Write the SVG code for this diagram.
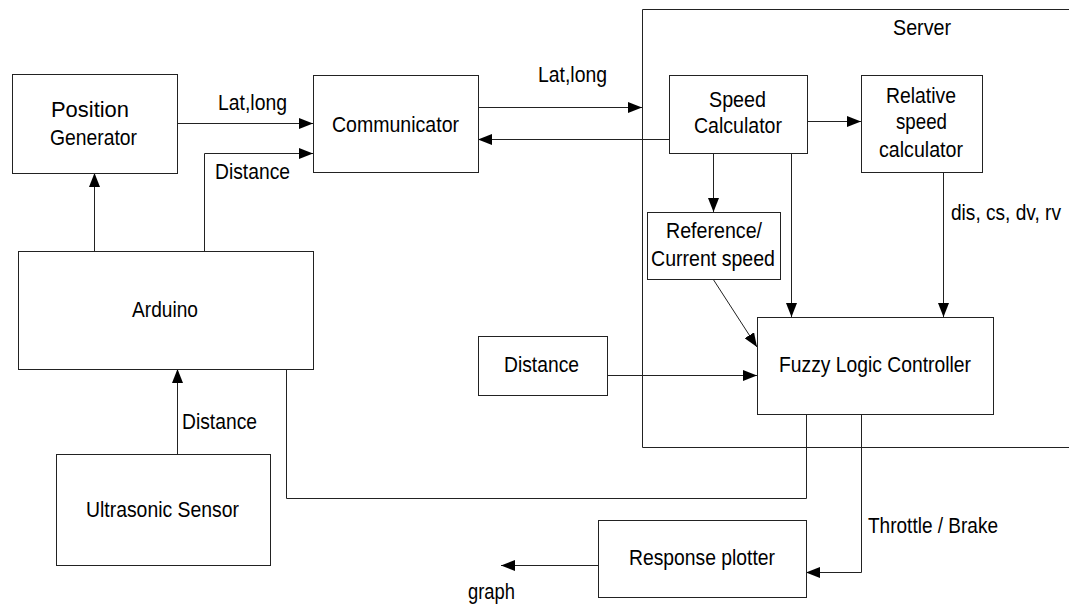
<svg xmlns="http://www.w3.org/2000/svg" width="1069" height="608" viewBox="0 0 1069 608">
  <style>
    .box { fill: #fff; stroke: #222; stroke-width: 1; }
    .frame { fill: none; stroke: #222; stroke-width: 1; }
    .wire { fill: none; stroke: #222; stroke-width: 1; }
    .arr { marker-end: url(#head); }
    text { font-family: "Liberation Sans", Arial, sans-serif; font-size: 22.5px; fill: #000; }
  </style>
  <defs>
    <marker id="head" viewBox="0 0 14 11" refX="14" refY="5.5" markerWidth="14" markerHeight="11" markerUnits="userSpaceOnUse" orient="auto">
      <path d="M0,0 L14,5.5 L0,11 Z" fill="#000"/>
    </marker>
  </defs>
  <rect width="1069" height="608" fill="#fff"/>

  <!-- server enclosure -->
  <g id="server">
    <path class="frame" d="M1069,9.5 H642.5 V447.5 H1069"/>
    <text x="893" y="35" textLength="58" lengthAdjust="spacingAndGlyphs">Server</text>
  </g>

  <!-- connectors -->
  <g id="connectors">
    <path class="wire arr" d="M177,123.5 H313"/>
    <path class="wire arr" d="M204.5,251 V153.5 H313"/>
    <path class="wire arr" d="M94.5,251 V173"/>
    <path class="wire arr" d="M177.5,454 V369"/>
    <path class="wire arr" d="M478,107.5 H642"/>
    <path class="wire arr" d="M669,139.5 H478"/>
    <path class="wire arr" d="M807,121.5 H861"/>
    <path class="wire arr" d="M713.5,153 V212"/>
    <path class="wire arr" d="M791.5,153 V317"/>
    <path class="wire arr" d="M943.5,172 V317"/>
    <path class="wire arr" d="M713,279 L757,347"/>
    <path class="wire arr" d="M607,375.5 H757"/>
    <path class="wire" d="M286.5,369 V498.5 H806.5 V414"/>
    <path class="wire" d="M286.5,370 V407" stroke-width="2"/>
    <path class="wire arr" d="M861.5,414 V572.5 H806"/>
    <path class="wire arr" d="M598,565.5 H501"/>
  </g>

  <!-- connector labels -->
  <g id="labels">
    <text x="218" y="110" textLength="69" lengthAdjust="spacingAndGlyphs">Lat,long</text>
    <text x="215" y="179" textLength="75" lengthAdjust="spacingAndGlyphs">Distance</text>
    <text x="538" y="82" textLength="69" lengthAdjust="spacingAndGlyphs">Lat,long</text>
    <text x="951" y="220" textLength="110" lengthAdjust="spacingAndGlyphs">dis, cs, dv, rv</text>
    <text x="182" y="429" textLength="75" lengthAdjust="spacingAndGlyphs">Distance</text>
    <text x="868" y="533" textLength="130" lengthAdjust="spacingAndGlyphs">Throttle / Brake</text>
    <text x="468" y="599" textLength="47" lengthAdjust="spacingAndGlyphs">graph</text>
  </g>

  <g id="position-generator">
    <rect class="box" x="12.5" y="74.5" width="165" height="99"/>
    <text x="51" y="117" textLength="78" lengthAdjust="spacingAndGlyphs">Position</text>
    <text x="50" y="145" textLength="87" lengthAdjust="spacingAndGlyphs">Generator</text>
  </g>

  <g id="communicator">
    <rect class="box" x="313.5" y="75.5" width="165" height="97"/>
    <text x="332" y="132" textLength="127" lengthAdjust="spacingAndGlyphs">Communicator</text>
  </g>

  <g id="arduino">
    <rect class="box" x="18.5" y="251.5" width="295" height="118"/>
    <text x="132" y="317" textLength="66" lengthAdjust="spacingAndGlyphs">Arduino</text>
  </g>

  <g id="ultrasonic-sensor">
    <rect class="box" x="56.5" y="454.5" width="214" height="111"/>
    <text x="86" y="517" textLength="153" lengthAdjust="spacingAndGlyphs">Ultrasonic Sensor</text>
  </g>

  <g id="speed-calculator">
    <rect class="box" x="669.5" y="75.5" width="138" height="78"/>
    <text x="709" y="107" textLength="57" lengthAdjust="spacingAndGlyphs">Speed</text>
    <text x="694" y="133" textLength="88" lengthAdjust="spacingAndGlyphs">Calculator</text>
  </g>

  <g id="relative-speed-calculator">
    <rect class="box" x="861.5" y="75.5" width="121" height="97"/>
    <text x="886" y="103" textLength="70" lengthAdjust="spacingAndGlyphs">Relative</text>
    <text x="896" y="129" textLength="51" lengthAdjust="spacingAndGlyphs">speed</text>
    <text x="879" y="157" textLength="84" lengthAdjust="spacingAndGlyphs">calculator</text>
  </g>

  <g id="reference-speed">
    <rect class="box" x="647.5" y="212.5" width="133" height="67"/>
    <text x="666" y="238" textLength="96" lengthAdjust="spacingAndGlyphs">Reference/</text>
    <text x="651" y="266" textLength="124" lengthAdjust="spacingAndGlyphs">Current speed</text>
  </g>

  <g id="distance">
    <rect class="box" x="478.5" y="336.5" width="129" height="59"/>
    <text x="504" y="372" textLength="75" lengthAdjust="spacingAndGlyphs">Distance</text>
  </g>

  <g id="fuzzy-logic-controller">
    <rect class="box" x="757.5" y="317.5" width="236" height="97"/>
    <text x="779" y="372" textLength="192" lengthAdjust="spacingAndGlyphs">Fuzzy Logic Controller</text>
  </g>

  <g id="response-plotter">
    <rect class="box" x="598.5" y="520.5" width="208" height="77"/>
    <text x="629" y="565" textLength="146" lengthAdjust="spacingAndGlyphs">Response plotter</text>
  </g>
</svg>
